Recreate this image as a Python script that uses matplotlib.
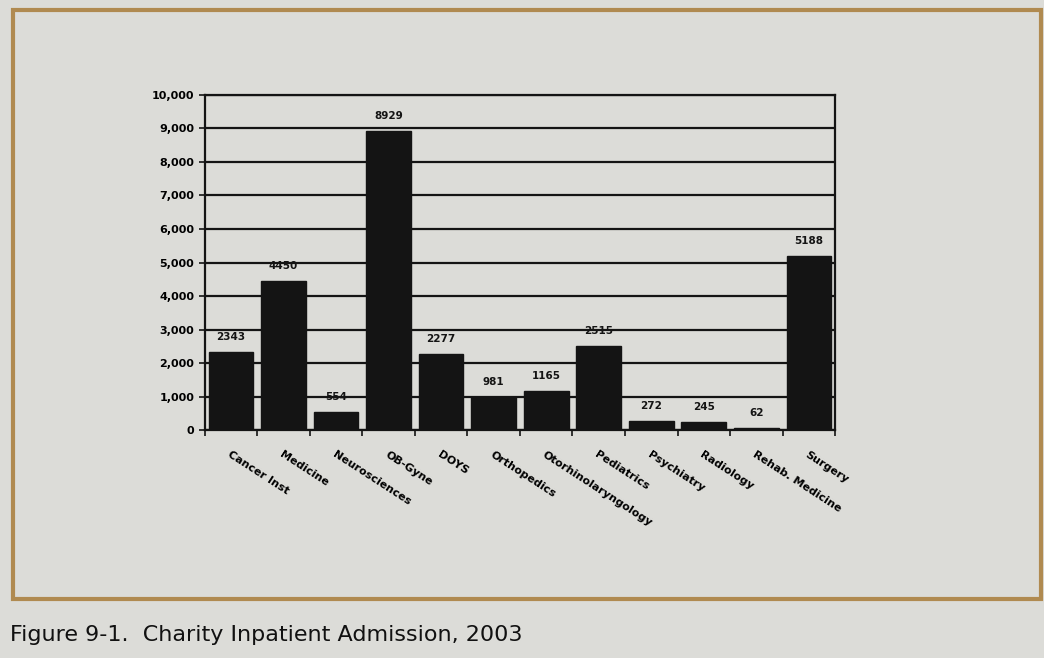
import numpy as np
import matplotlib.pyplot as plt
from matplotlib.patches import Rectangle
from matplotlib.ticker import FuncFormatter, MultipleLocator

# inpatient admissions by service line
services = ["Cancer Inst", "Medicine", "Neurosciences", "OB-Gyne", "DOYS",
            "Orthopedics", "Otorhinolaryngology", "Pediatrics", "Psychiatry",
            "Radiology", "Rehab. Medicine", "Surgery"]
admissions = [2343, 4450, 554, 8929, 2277, 981, 1165, 2515, 272, 245, 62, 5188]

paper = "#dcdcd8"
ink = "#141414"

fig = plt.figure(figsize=(10.44, 6.58), dpi=100, facecolor=paper)

# page frame around the figure
fig.patches.append(Rectangle((0.012, 0.09), 0.985, 0.895, transform=fig.transFigure,
                             fill=False, edgecolor="#b08a50", linewidth=3))

ax = fig.add_axes([0.196, 0.346, 0.604, 0.51])
ax.set_facecolor(paper)

x = np.arange(len(services))
ax.bar(x, admissions, width=0.85, color=ink, edgecolor=ink, zorder=3)

for xi, v in zip(x, admissions):
    ax.text(xi, v + 300, str(v), ha="center", va="bottom", fontsize=7.5,
            fontweight="bold", color=ink, zorder=4)

ax.set_xlim(-0.5, len(services) - 0.5)
ax.set_ylim(0, 10000)
ax.yaxis.set_major_locator(MultipleLocator(1000))
ax.yaxis.set_major_formatter(FuncFormatter(lambda v, p: f"{int(v):,}"))
ax.grid(axis="y", color=ink, linewidth=1.6, zorder=1)

ax.set_xticks(x)
ax.set_xticklabels(services, rotation=-33, ha="left", rotation_mode="anchor",
                   fontsize=8, fontweight="bold")
ax.tick_params(axis="x", length=0, pad=14)
ax.set_xticks(np.arange(-0.5, len(services)), minor=True)
ax.tick_params(axis="x", which="minor", length=4, width=1.2, color=ink)
ax.tick_params(axis="y", length=4, width=1.2, color=ink, labelsize=8)
for lab in ax.get_yticklabels():
    lab.set_fontweight("bold")

for s in ax.spines.values():
    s.set_color(ink)
    s.set_linewidth(1.6)

fig.text(0.01, 0.02, "Figure 9-1.  Charity Inpatient Admission, 2003",
         fontsize=16, color="#111111", ha="left", va="bottom")

fig.savefig("out.png", dpi=100, facecolor=paper)
